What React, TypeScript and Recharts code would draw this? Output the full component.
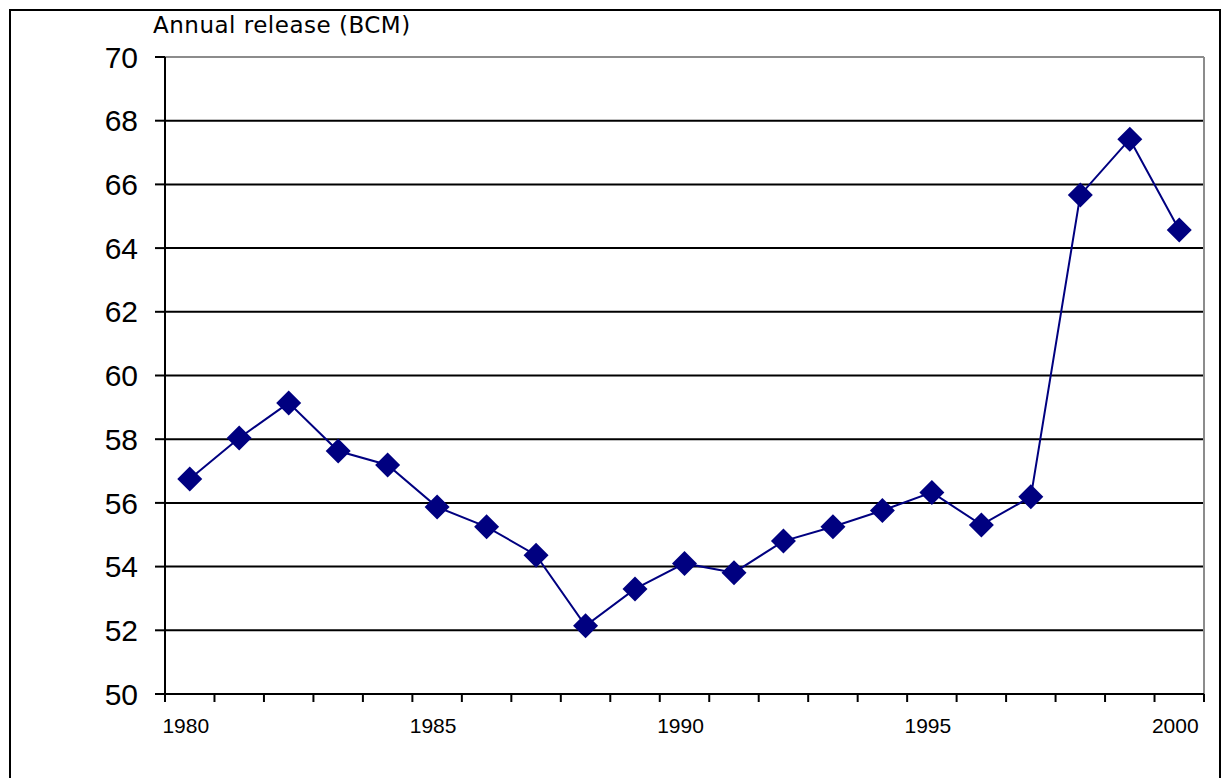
import { CartesianGrid, Line, LineChart, ReferenceLine, XAxis, YAxis } from "recharts";

const years = [
  1980, 1981, 1982, 1983, 1984, 1985, 1986, 1987, 1988, 1989, 1990,
  1991, 1992, 1993, 1994, 1995, 1996, 1997, 1998, 1999, 2000
];
const releases = [
  56.75, 58.04, 59.14, 57.63, 57.19, 55.87, 55.25, 54.36, 52.14, 53.3, 54.1,
  53.81, 54.8, 55.25, 55.76, 56.33, 55.31, 56.19, 65.67, 67.42, 64.57
];
const yTicks = [50, 52, 54, 56, 58, 60, 62, 64, 66, 68, 70];
const yearLabels = [1980, 1985, 1990, 1995, 2000];

const data = years.map((year, i) => ({ year, release: releases[i] }));

// category boundaries sit half a year either side of each point
const boundaries = [...years.map((y) => y - 0.5), years[years.length - 1] + 0.5];
const xTicks = [...boundaries, ...yearLabels].sort((a, b) => a - b);

const NAVY = "#000080";

function Diamond(props: any) {
  const { cx, cy } = props;
  if (cx == null || cy == null) return null;
  const r = 12.5;
  return (
    <polygon
      points={`${cx},${cy - r} ${cx + r},${cy} ${cx},${cy + r} ${cx - r},${cy}`}
      fill={NAVY}
    />
  );
}

// boundary ticks draw a short mark under the axis, year ticks draw the label
function YearTick(props: any) {
  const { x, y, payload } = props;
  const v = payload.value as number;
  if (!Number.isInteger(v)) {
    return <line x1={x} x2={x} y1={y - 24} y2={y - 16} stroke="#000" strokeWidth={2} />;
  }
  return (
    <text
      x={x - 4}
      y={y}
      dy="0.71em"
      textAnchor="middle"
      fontSize={21}
      fontFamily="'Liberation Sans', Arial, sans-serif"
      fill="#000"
    >
      {v}
    </text>
  );
}

export default function App() {
  return (
    <div
      style={{
        position: "absolute",
        left: 0,
        top: 0,
        width: 1221,
        height: 778,
        overflow: "hidden",
        background: "#fff"
      }}
    >
      <div
        style={{
          position: "absolute",
          left: 9,
          top: 9,
          width: 1208,
          height: 800,
          borderTop: "2px solid #000",
          borderLeft: "2px solid #000",
          borderRight: "2px solid #000"
        }}
      />
      <div
        style={{
          position: "absolute",
          left: 153,
          top: 12,
          fontFamily: "'DejaVu Sans', Verdana, sans-serif",
          fontSize: 23,
          letterSpacing: 0.5,
          color: "#000",
          whiteSpace: "nowrap"
        }}
      >
        Annual release (BCM)
      </div>
      <div style={{ position: "absolute", left: 0, top: 0 }}>
        <LineChart
          width={1221}
          height={778}
          data={data}
          margin={{ top: 57, right: 17, bottom: 0, left: 0 }}
        >
          <CartesianGrid vertical={false} stroke="#000" strokeWidth={2} strokeOpacity={1} />
          <XAxis
            dataKey="year"
            type="number"
            domain={[1979.5, 2000.5]}
            allowDataOverflow
            ticks={xTicks}
            interval={0}
            height={84}
            tickSize={0}
            tickMargin={24}
            tickLine={false}
            axisLine={{ stroke: "#000", strokeWidth: 2 }}
            tick={<YearTick />}
          />
          <YAxis
            domain={[50, 70]}
            ticks={yTicks}
            interval={0}
            width={165}
            tickSize={10}
            tickMargin={17}
            axisLine={{ stroke: "#000", strokeWidth: 2 }}
            tickLine={{ stroke: "#000", strokeWidth: 2 }}
            tick={{ fontSize: 30, fill: "#000", fontFamily: "'Liberation Sans', Arial, sans-serif" }}
          />
          <ReferenceLine y={70} stroke="#8c8c8c" strokeWidth={2} />
          <ReferenceLine x={2000.5} stroke="#8c8c8c" strokeWidth={2} />
          <Line
            dataKey="release"
            stroke={NAVY}
            strokeWidth={2}
            dot={<Diamond />}
            activeDot={false}
            isAnimationActive={false}
          />
        </LineChart>
      </div>
    </div>
  );
}
